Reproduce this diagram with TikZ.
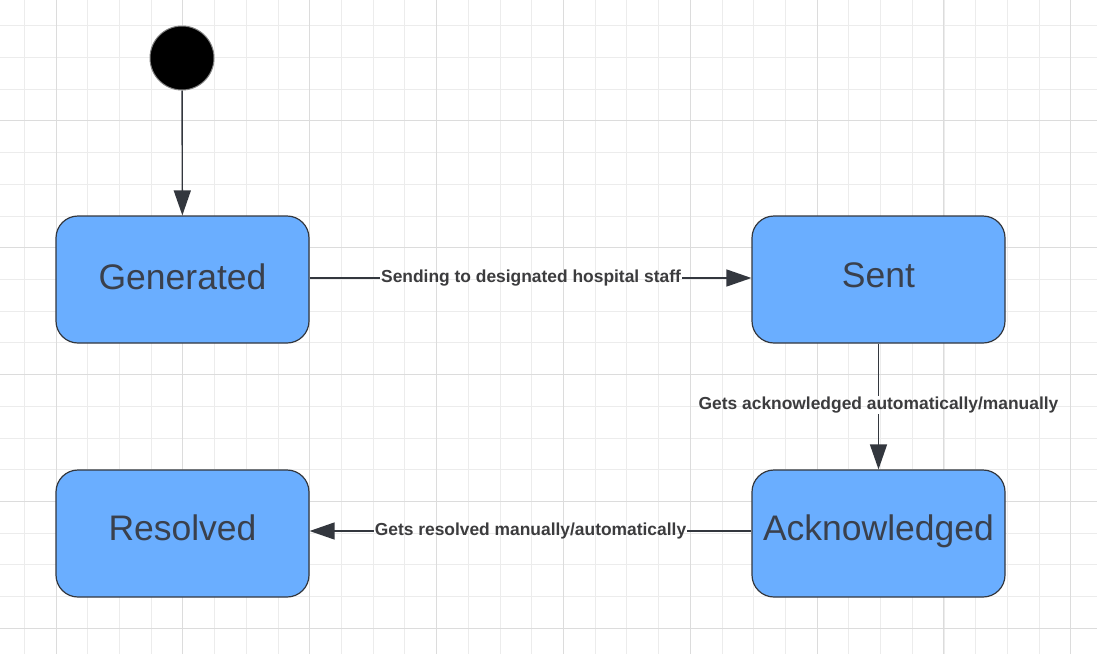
\documentclass[tikz,border=0pt]{standalone}
\usepackage{fontspec}
\setmainfont{Liberation Sans}
\usetikzlibrary{arrows.meta}
\definecolor{boxblue}{RGB}{106,174,255}
\definecolor{boxline}{RGB}{51,55,62}
\definecolor{txtgray}{RGB}{58,64,76}
\definecolor{lblgray}{RGB}{60,60,62}
\definecolor{gridminor}{RGB}{236,236,236}
\definecolor{gridmajor}{RGB}{220,220,220}
\begin{document}
\begin{tikzpicture}[x=1pt, y=-1pt]
    \tikzstyle{state}=[rectangle, rounded corners=22pt, draw=boxline, line width=1.2pt, fill=boxblue,
      minimum width=253pt, minimum height=127pt, text=txtgray, font=\fontsize{35.5}{40}\selectfont,
      text height=25pt, text depth=6pt]
    \tikzstyle{init}=[circle, fill=black, draw=gray, line width=1pt, minimum size=64pt, inner sep=0pt]
    \tikzstyle{lbl}=[inner sep=1pt, text=lblgray, font=\bfseries\fontsize{17.4}{20}\selectfont]
    \tikzstyle{edge}=[draw=boxline, line width=1.4pt]
    \tikzstyle{arr}=[edge, -{Triangle[length=25pt, width=17pt]}]
    \useasboundingbox (0,0) rectangle (1097,654);
    \fill[white] (0,0) rectangle (1097,654);
    % grid
    \foreach \i in {0,...,35} \draw[gridminor, line width=0.8pt] ({-7.4+31.71*\i},0) -- ({-7.4+31.71*\i},654);
    \foreach \j in {0,...,21} \draw[gridminor, line width=0.8pt] (0,{-6+31.71*\j}) -- (1097,{-6+31.71*\j});
    \foreach \i in {0,...,8} \draw[gridmajor, line width=0.8pt] ({56+126.84*\i},0) -- ({56+126.84*\i},654);
    \foreach \j in {0,...,5} \draw[gridmajor, line width=0.8pt] (0,{-6+126.84*\j}) -- (1097,{-6+126.84*\j});
    % states
    \node[init] (start) at (182,58) {};
    \node[state] (gen) at (182.5,279.5) {Generated};
    \node[state, text depth=10pt] (sent) at (878.5,279.5) {Sent};
    \node[state, text depth=12pt] (ack) at (878.5,533.5) {Acknowledged};
    \node[state, text depth=12pt] (res) at (182.5,533.5) {Resolved};
    % transitions
    \draw[arr] (start) -- (gen);
    \node[lbl] (l1) at (531,278) {Sending to designated hospital staff};
    \draw[edge] (gen.east |- l1) -- (l1);
    \draw[arr] (l1) -- (sent.west |- l1);
    \node[lbl] (l2) at (878.5,405) {Gets acknowledged automatically/manually};
    \draw[edge] (sent) -- (l2);
    \draw[arr] (l2) -- (ack);
    \node[lbl] (l3) at (530.5,531) {Gets resolved manually/automatically};
    \draw[edge] (ack.west |- l3) -- (l3);
    \draw[arr] (l3) -- (res.east |- l3);
\end{tikzpicture}
\end{document}
